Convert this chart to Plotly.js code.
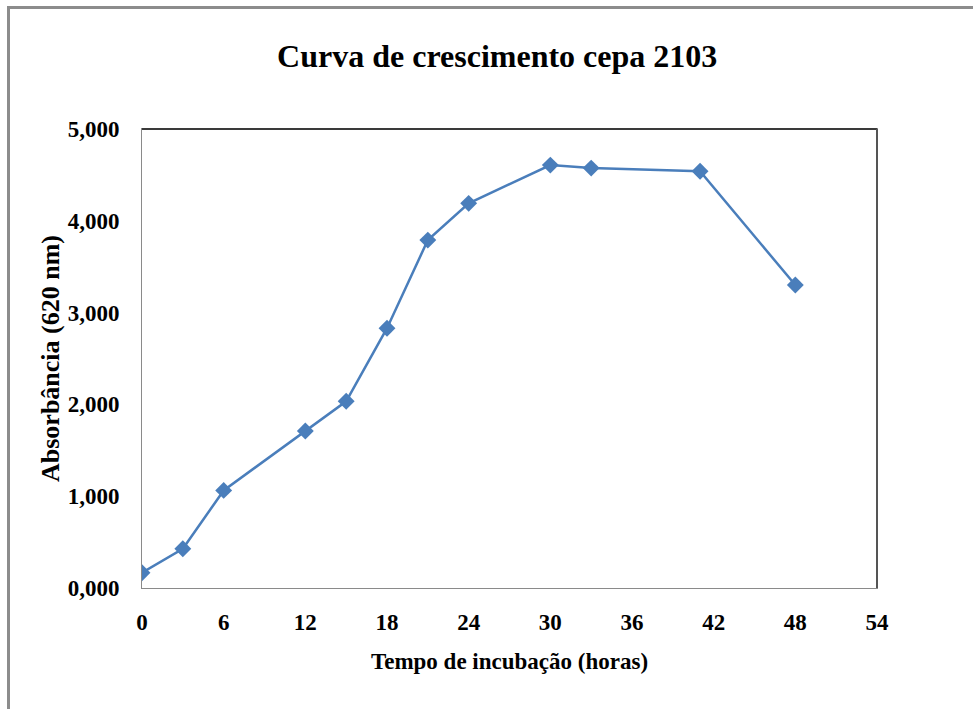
<!DOCTYPE html>
<html>
<head>
<meta charset="utf-8">
<script src="https://cdn.plot.ly/plotly-3.0.1.min.js"></script>
<style>
  html, body { margin: 0; padding: 0; background: #fff; }
  #wrap { position: relative; width: 973px; height: 709px; overflow: hidden; }
  #chart { position: absolute; left: 0; top: 0; width: 973px; height: 709px; }
  #frameL { position: absolute; left: 7px; top: 6px; width: 3px; height: 710px; background: #8c8c8c; }
  #frameT { position: absolute; left: 7px; top: 6px; width: 980px; height: 3px; background: #8c8c8c; }
</style>
</head>
<body>
<div id="wrap">
  <div id="chart"></div>
  <div id="frameL"></div>
  <div id="frameT"></div>
</div>
<script>
// Data
const hours = [0, 3, 6, 12, 15, 18, 21, 24, 30, 33, 41, 48];
const absorbance = [0.166, 0.427, 1.063, 1.71, 2.034, 2.83, 3.79, 4.19, 4.607, 4.574, 4.54, 3.30];
const chartTitle = 'Curva de crescimento cepa 2103';
const xTitle = 'Tempo de incubação (horas)';
const yTitle = 'Absorbância (620 nm)';

const serif = '"Liberation Serif", "Times New Roman", serif';
const blue = '#4a7ebb';

const trace = {
  x: hours,
  y: absorbance,
  type: 'scatter',
  mode: 'lines+markers',
  line: { color: blue, width: 2.5 },
  marker: { symbol: 'diamond', size: 13, color: blue },
  hoverinfo: 'x+y'
};

const layout = {
  width: 973,
  height: 709,
  margin: { l: 142, r: 96, t: 129, b: 121 },
  paper_bgcolor: '#ffffff',
  plot_bgcolor: '#ffffff',
  separators: ',.',
  showlegend: false,
  font: { family: serif, color: '#000' },
  title: {
    text: '<b>' + chartTitle + '</b>',
    font: { family: serif, size: 32, color: '#000' },
    x: 0.511, xref: 'container', xanchor: 'center',
    y: 1 - 56 / 709, yref: 'container', yanchor: 'middle'
  },
  xaxis: {
    range: [0, 54],
    tick0: 0, dtick: 6,
    showgrid: false, zeroline: false,
    showline: true, linecolor: '#8a8a8a', linewidth: 1, mirror: true,
    ticks: '', ticklabelstandoff: 13,
    tickfont: { family: serif, size: 23, color: '#000', weight: 'bold' },
    title: { text: '<b>' + xTitle + '</b>', font: { family: serif, size: 23, color: '#000' }, standoff: 19 }
  },
  yaxis: {
    range: [0, 5],
    tick0: 0, dtick: 1,
    tickformat: '.3f',
    showgrid: false, zeroline: false,
    showline: true, linecolor: '#8a8a8a', linewidth: 1, mirror: true,
    ticks: '', ticklabelstandoff: 17,
    tickfont: { family: serif, size: 23, color: '#000', weight: 'bold' },
    title: { text: '<b>' + yTitle + '</b>', font: { family: serif, size: 26, color: '#000' }, standoff: 0 }
  },
  shapes: [
    { type: 'line', xref: 'paper', yref: 'paper', x0: 0, x1: 1, y0: 1, y1: 1, line: { color: '#3a3a3a', width: 2 } },
    { type: 'line', xref: 'paper', yref: 'paper', x0: 1, x1: 1, y0: 0, y1: 1, line: { color: '#555555', width: 2 } }
  ]
};

Plotly.newPlot('chart', [trace], layout, { displayModeBar: false, staticPlot: true });
</script>
</body>
</html>
